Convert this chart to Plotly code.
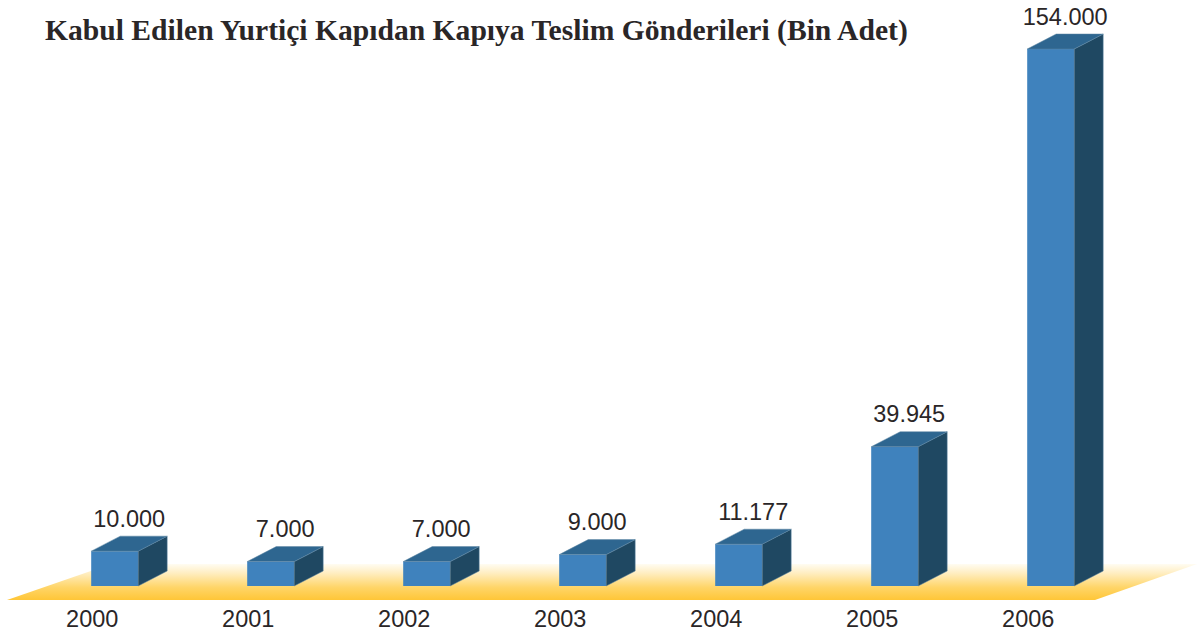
import plotly.graph_objects as go

years = ["2000", "2001", "2002", "2003", "2004", "2005", "2006"]
value_labels = ["10.000", "7.000", "7.000", "9.000", "11.177", "39.945", "154.000"]
# heights as drawn in the picture (thousands)
values = [10000, 7000, 7000, 9000, 12000, 39945, 154000]
title_text = "Kabul Edilen Yurtiçi Kapıdan Kapıya Teslim Gönderileri (Bin Adet)"

W, H = 1197, 637
PLOT_B = 35
px_per_cat = 156.0
px_per_val = 537.0 / 154000
base_px = 586.0
first_center_px = 114.7
plot_h = H - PLOT_B

xr = [-first_center_px / px_per_cat, (W - first_center_px) / px_per_cat]
yr = [-(plot_h - base_px) / px_per_val, base_px / px_per_val]

bw = 47 / px_per_cat
dx = 29 / px_per_cat
dy = 15 / px_per_val
label_gap = 3.5 / px_per_val
tick_shift = 22.5 / px_per_cat

FRONT, TOP, SIDE = "#3F82BD", "#2E6690", "#1F4862"
TEXT = "#2A2627"

fx = lambda p: (p - first_center_px) / px_per_cat
fy = lambda p: (base_px - p) / px_per_val

fig = go.Figure()

# floor, with vertical fade
fig.add_trace(go.Scatter(
    x=[fx(7), fx(1095), fx(1197), fx(111), fx(7)],
    y=[fy(600), fy(600), fy(564), fy(564), fy(600)],
    mode="lines", line=dict(width=0), fill="toself",
    fillgradient=dict(type="vertical", colorscale=[[0, "#FFC637"], [0.35, "#FFD568"], [0.75, "#FFEEC2"], [1, "#FFFCF2"]]),
    hoverinfo="skip", showlegend=False, xaxis="x", yaxis="y",
))

# front faces
fig.add_trace(go.Bar(
    x=list(range(len(years))), y=values, width=bw,
    marker=dict(color=FRONT, line=dict(width=0)),
    showlegend=False, xaxis="x2", yaxis="y2",
))

# side and top faces
for i, v in enumerate(values):
    x0, x1 = i - bw / 2, i + bw / 2
    fig.add_trace(go.Scatter(
        x=[x1, x1 + dx, x1 + dx, x1, x1], y=[0, dy, v + dy, v, 0],
        mode="lines", line=dict(width=0.5, color="#5F86A3"), fill="toself", fillcolor=SIDE,
        hoverinfo="skip", showlegend=False, xaxis="x2", yaxis="y2",
    ))
    fig.add_trace(go.Scatter(
        x=[x0, x1, x1 + dx, x0 + dx, x0], y=[v, v, v + dy, v + dy, v],
        mode="lines", line=dict(width=0.5, color="#5F86A3"), fill="toself", fillcolor=TOP,
        hoverinfo="skip", showlegend=False, xaxis="x2", yaxis="y2",
    ))

# value labels
fig.add_trace(go.Scatter(
    x=[i + dx / 2 for i in range(len(years))],
    y=[v + dy + label_gap for v in values],
    mode="text", text=value_labels, textposition="top center",
    textfont=dict(family="Liberation Sans", size=23.5, color=TEXT),
    cliponaxis=False, hoverinfo="skip", showlegend=False, xaxis="x2", yaxis="y2",
))

fig.update_layout(
    width=W, height=H, autosize=False,
    margin=dict(l=0, r=0, t=0, b=PLOT_B, pad=0),
    paper_bgcolor="white", plot_bgcolor="white", showlegend=False,
    title=dict(
        text=title_text, x=45 / W, xanchor="left", xref="paper",
        y=1 - 29.5 / H, yanchor="middle", yref="container",
        font=dict(family="Liberation Serif", size=29.6, color=TEXT, weight="bold"),
    ),
    xaxis=dict(
        range=xr, showgrid=False, zeroline=False, showline=False, ticks="",
        tickmode="array", tickvals=[i - tick_shift for i in range(len(years))], ticktext=years,
        tickfont=dict(family="Liberation Sans", size=23.5, color=TEXT), tickangle=0,
    ),
    yaxis=dict(range=yr, visible=False),
    xaxis2=dict(range=xr, overlaying="x", visible=False, matches="x"),
    yaxis2=dict(range=yr, overlaying="y", visible=False, matches="y"),
)

fig.write_html(
    "out.html", config=dict(displayModeBar=False),
    post_script="document.body.style.margin='0';document.documentElement.style.overflow='hidden';",
)
